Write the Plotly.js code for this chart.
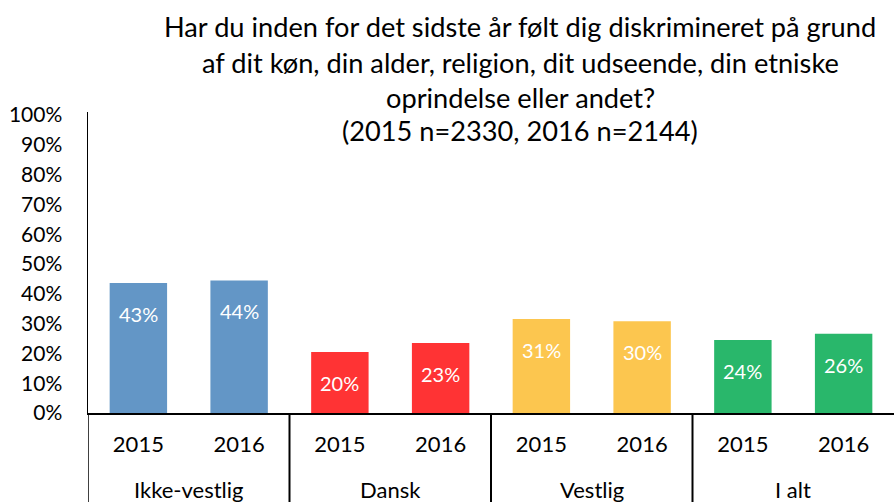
<!DOCTYPE html>
<html>
<head>
<meta charset="utf-8">
<script src="https://cdn.plot.ly/plotly-3.0.1.min.js"></script>
<style>html,body{margin:0;padding:0;background:#fff}#chart{width:894px;height:502px}</style>
</head>
<body>
<div id="chart"></div>
<script>
var groups = ["Ikke-vestlig", "Dansk", "Vestlig", "I alt"];
var years = ["2015", "2016"];
var values = [43.6, 44.5, 20.5, 23.5, 31.5, 30.8, 24.5, 26.6];
var labels = ["43%", "44%", "20%", "23%", "31%", "30%", "24%", "26%"];
var colors = ["#6396C6", "#6396C6", "#FF3334", "#FF3334", "#FCC64F", "#FCC64F", "#29B76B", "#29B76B"];
var yTicks = [0, 10, 20, 30, 40, 50, 60, 70, 80, 90, 100];
var yTickText = ["0%", "10%", "20%", "30%", "40%", "50%", "60%", "70%", "80%", "90%", "100%"];
var titleLines = ["Har du inden for det sidste år følt dig diskrimineret på grund",
  "af dit køn, din alder, religion, dit udseende, din etniske",
  "oprindelse eller andet?",
  "(2015 n=2330, 2016 n=2144)"];

var FONT = "Lato, 'Open Sans', sans-serif";

// one category per bar (group + year), labelled with the year
var cats = [], catYears = [];
groups.forEach(function (g) {
  years.forEach(function (yr) { cats.push(g + " " + yr); catYears.push(yr); });
});

var trace = {
  type: "bar",
  x: cats,
  y: values,
  marker: {color: colors, line: {width: 0}},
  textposition: "none",
  hoverinfo: "none",
  showlegend: false
};

var annotations = [];
values.forEach(function (v, i) {
  annotations.push({
    xref: "x", yref: "y", x: cats[i], y: v, yshift: -31,
    text: labels[i], showarrow: false,
    font: {family: FONT, size: 20, color: "#ffffff"}
  });
});
// group labels under the year labels
groups.forEach(function (g, gi) {
  annotations.push({
    xref: "x", yref: "paper", x: gi * years.length + (years.length - 1) / 2, y: -0.255,
    yanchor: "middle", text: g, showarrow: false,
    font: {family: FONT, size: 22, color: "#000000"}
  });
});
// title lines
var titleY = [1.2824, 1.1661, 1.0498, 0.9369];
titleLines.forEach(function (t, li) {
  annotations.push({
    xref: "paper", yref: "paper", x: 0.536, y: titleY[li], xanchor: "center", yanchor: "middle",
    text: t, showarrow: false,
    font: {family: FONT, size: 27.2, color: "#000000"}
  });
});

var shapes = [];
for (var k = 0; k < groups.length; k++) {
  shapes.push({
    type: "line", xref: "x", yref: "paper", x0: k * years.length - 0.5, x1: k * years.length - 0.5,
    y0: 0, y1: -0.3, line: {color: "#000000", width: k === 0 ? 1.5 : 2}
  });
}

var layout = {
  width: 894, height: 502,
  margin: {l: 88, r: 0, t: 112, b: 89},
  paper_bgcolor: "#ffffff", plot_bgcolor: "#ffffff",
  bargap: 0.43,
  xaxis: {
    type: "category", tickvals: cats, ticktext: catYears,
    range: [-0.5, cats.length - 0.5],
    showline: true, linecolor: "#000000", linewidth: 2,
    ticks: "", showgrid: false, zeroline: false,
    tickfont: {family: FONT, size: 22, color: "#000000"},
    ticklabelstandoff: 11
  },
  yaxis: {
    range: [0, 101], tickvals: yTicks, ticktext: yTickText,
    showline: true, linecolor: "#000000", linewidth: 1.5,
    showgrid: false, zeroline: false, ticks: "",
    tickfont: {family: FONT, size: 21, color: "#000000"},
    ticklabelstandoff: 20
  },
  annotations: annotations,
  shapes: shapes
};

Plotly.newPlot("chart", [trace], layout, {displayModeBar: false, staticPlot: true});
</script>
</body>
</html>
